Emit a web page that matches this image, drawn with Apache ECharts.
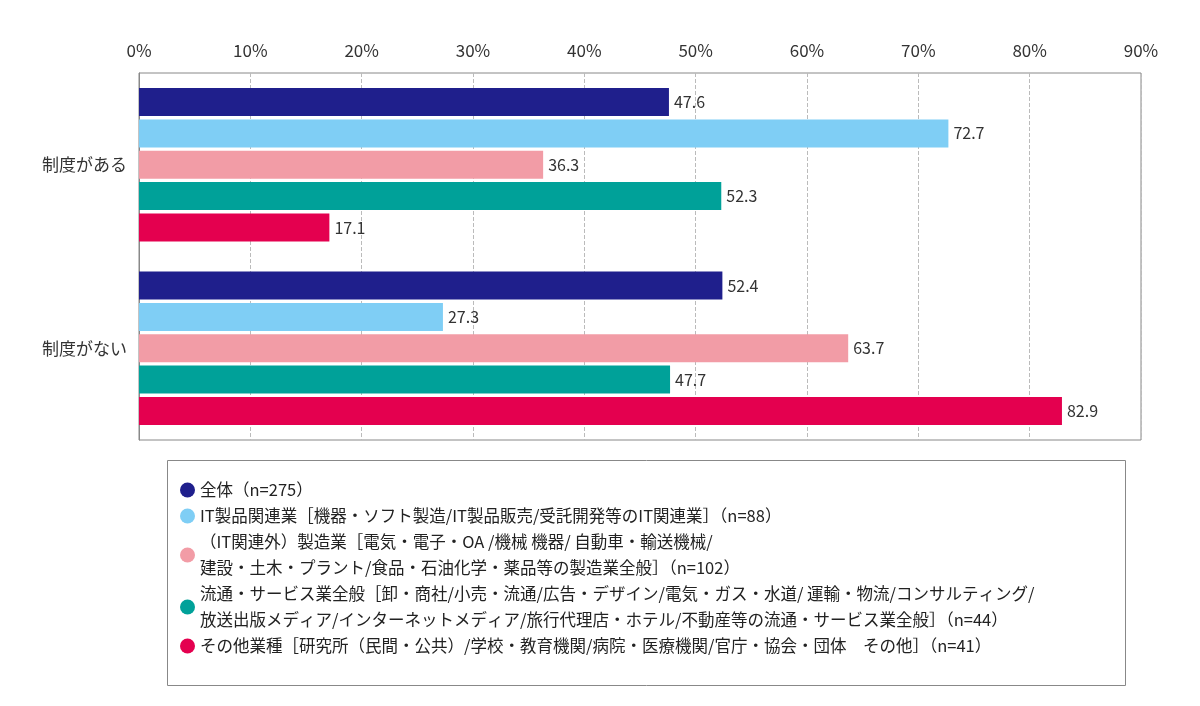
<!DOCTYPE html>
<html><head><meta charset="utf-8">
<script src="https://cdn.jsdelivr.net/npm/echarts@6/dist/echarts.min.js"></script>
<style>html,body{margin:0;padding:0;background:#fff}#c{width:1200px;height:706px}</style>
</head><body><div id="c"></div>
<script>
// データ
const categories = ['制度がある', '制度がない'];
const seriesNames = [
    '全体（n=275）',
    'IT製品関連業［機器・ソフト製造/IT製品販売/受託開発等のIT関連業］（n=88）',
    '（IT関連外）製造業［電気・電子・OA /機械 機器/ 自動車・輸送機械/\n建設・土木・プラント/食品・石油化学・薬品等の製造業全般］（n=102）',
    '流通・サービス業全般［卸・商社/小売・流通/広告・デザイン/電気・ガス・水道/ 運輸・物流/コンサルティング/\n放送出版メディア/インターネットメディア/旅行代理店・ホテル/不動産等の流通・サービス業全般］（n=44）',
    'その他業種［研究所（民間・公共）/学校・教育機関/病院・医療機関/官庁・協会・団体　その他］（n=41）'
];
const colors = ['#1f1f8c', '#7fcef5', '#f29ca6', '#00a199', '#e4004f'];
const values = [
    [47.6, 52.4],
    [72.7, 27.3],
    [36.3, 63.7],
    [52.3, 47.7],
    [17.1, 82.9]
];

const chart = echarts.init(document.getElementById('c'));
const font = '"Noto Sans CJK JP", "Noto Sans", sans-serif';

const option = {
    textStyle: { fontFamily: font },
    animation: false,
    grid: { left: 139, right: 59, top: 73, height: 367, show: true, borderColor: '#888', borderWidth: 1 },
    xAxis: {
        type: 'value', position: 'top', min: 0, max: 90, interval: 10,
        axisLabel: { formatter: '{value}%', fontSize: 17, color: '#333', margin: 14 },
        axisLine: { show: false }, axisTick: { show: false },
        splitLine: { lineStyle: { type: 'dashed', color: '#bbb' } }
    },
    yAxis: {
        type: 'category', data: categories, inverse: true,
        axisLabel: { fontSize: 17, color: '#333', margin: 12 },
        axisLine: { lineStyle: { color: '#888' } }, axisTick: { show: false }
    },
    graphic: [{
        type: 'rect', left: 165, top: 458,
        shape: { width: 958, height: 225 },
        style: { fill: 'none', stroke: '#888', lineWidth: 1 }
    }],
    legend: {
        orient: 'vertical', left: 180, top: 477,
        padding: 0, icon: 'circle', itemWidth: 15, itemHeight: 15, itemGap: 0,
        textStyle: { fontSize: 16.5, color: '#222', lineHeight: 26 },
        data: seriesNames
    },
    series: seriesNames.map((n, i) => ({
        name: n, type: 'bar', data: values[i],
        barWidth: 28, barGap: '12%', barCategoryGap: '15%',
        itemStyle: { color: colors[i] },
        label: { show: true, position: 'right', fontSize: 16, color: '#333', formatter: p => p.value.toFixed(1) }
    }))
};
chart.setOption(option);
</script></body></html>
